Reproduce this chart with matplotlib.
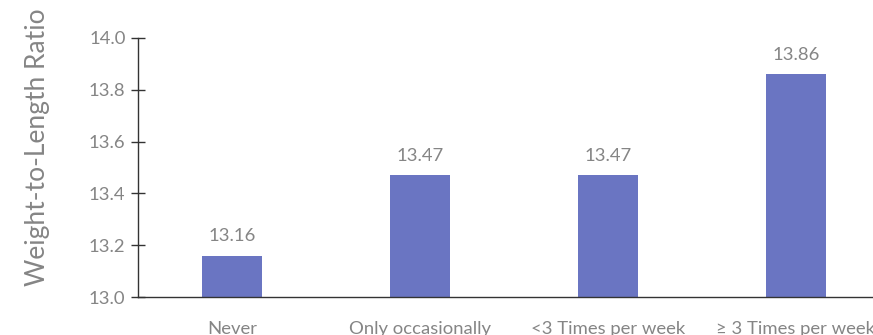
import matplotlib
matplotlib.use("Agg")
import matplotlib.pyplot as plt

categories = ["Never", "Only occasionally", "<3 Times per week", "\u2265 3 Times per week"]
values = [13.16, 13.47, 13.47, 13.86]
value_labels = ["13.16", "13.47", "13.47", "13.86"]
y_ticks = [13.0, 13.2, 13.4, 13.6, 13.8, 14.0]

W, H = 873, 335
fig = plt.figure(figsize=(W / 100, H / 100), dpi=100)
plt.rcParams["font.family"] = ["Lato", "DejaVu Sans"]

# axes box in pixel units (the right end runs past the canvas edge)
left, right, bottom, top = 138, 890, 297, 38
ax = fig.add_axes([left / W, 1 - bottom / H, (right - left) / W, (bottom - top) / H])

text_color = "#858585"
bar_color = "#6A75C2"
fs = 13.3

x = range(len(categories))
ax.bar(x, [v - 13.0 for v in values], bottom=13.0, width=0.315, color=bar_color)
for xi, v, lab in zip(x, values, value_labels):
    ax.annotate(lab, (xi, v), xytext=(0, 8), textcoords="offset points",
                ha="center", va="bottom", fontsize=fs, color=text_color)

ax.set_xlim(-0.5, 3.5)
ax.set_ylim(13.0, 14.0)
ax.set_yticks(y_ticks)
ax.set_yticklabels([f"{t:.1f}" for t in y_ticks])
ax.set_xticks(list(x))
ax.set_xticklabels(categories)

for s in ["top", "right"]:
    ax.spines[s].set_visible(False)
for s in ["left", "bottom"]:
    ax.spines[s].set_color("#333333")
    ax.spines[s].set_linewidth(1.0)

ax.tick_params(axis="y", direction="inout", length=10, width=1, color="#333333",
               labelsize=fs, labelcolor=text_color, pad=4)
ax.tick_params(axis="x", length=0, labelsize=fs, labelcolor=text_color, pad=17)

fig.text(38 / W, 1 - 147.5 / H, "Weight-to-Length Ratio", rotation=90,
         ha="center", va="center", fontsize=19, color=text_color)

fig.savefig("out.png", dpi=100)
